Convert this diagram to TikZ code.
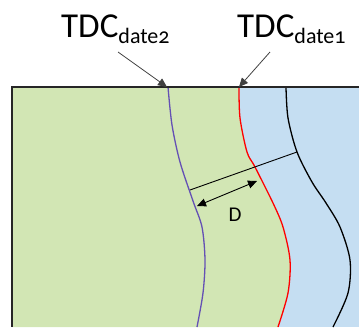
\documentclass[tikz,border=0pt]{standalone}
\usepackage{fontspec}
\setmainfont{Carlito}
\usetikzlibrary{arrows.meta}
\definecolor{lgreen}{RGB}{210,230,180}
\definecolor{lblue}{RGB}{197,222,242}
\definecolor{purp}{RGB}{100,80,180}
\newcommand{\tdclabel}[1]{{\fontsize{35}{36}\selectfont TDC}\raisebox{-6pt}{\fontsize{22}{24}\selectfont\addfontfeature{Numbers=OldStyle}#1}}
\newcommand{\redpts}{(239,87) (240,118) (247,152) (255,167) (273,203) (283,227) (290,260) (288,293) (278,327)}
\tikzset{
  lbl/.style={inner sep=0pt, anchor=base west},
  pointer/.style={draw=black!75, line width=0.8pt, -{Triangle[length=9pt,width=8pt]}},
  dimarrow/.style={draw=black, line width=0.9pt, {Triangle[length=9pt,width=8pt]}-{Triangle[length=9pt,width=8pt]}},
  curve/.style={line width=1.3pt}
}
\begin{document}
\begin{tikzpicture}[x=1pt,y=-1pt]
\useasboundingbox (0,0) rectangle (359,327);
% background fills
\fill[lblue] (12,87) rectangle (359,327);
\fill[lgreen] (12,87) -- plot[smooth] coordinates {\redpts} -- (12,327) -- cycle;
% curves
\draw[curve, purp] plot[smooth] coordinates {(168,87) (172,125) (180,162) (193,201) (202,227) (205,260) (203,293) (197,327)};
\draw[curve, red] plot[smooth] coordinates {\redpts};
\draw[curve, black] plot[smooth] coordinates {(286,87) (288,118) (297,152) (312,182) (326,203) (340,227) (350,260) (348,293) (333,327)};
% frame
\draw[line width=1.5pt, black!85] (12,327) -- (12,87) -- (359,87);
% coordinates
\coordinate (p2) at (167,87);
\coordinate (p1) at (239,87);
\coordinate (mA) at (297,152);
\coordinate (mB) at (190,190);
\coordinate (dA) at (257,181);
\coordinate (dB) at (197,206);
% labels
\node[lbl] (t2) at (61,37) {\tdclabel{date2}};
\node[lbl] (t1) at (237,37) {\tdclabel{date1}};
\draw[pointer] (118,52) -- (p2);
\draw[pointer] (270,52) -- (p1);
% measurement
\draw[line width=0.9pt] (mA) -- (mB);
\draw[dimarrow] (dA) -- (dB);
\node[font=\fontsize{21}{22}\selectfont, inner sep=0pt] (D) at (235,215) {D};
\end{tikzpicture}
\end{document}
